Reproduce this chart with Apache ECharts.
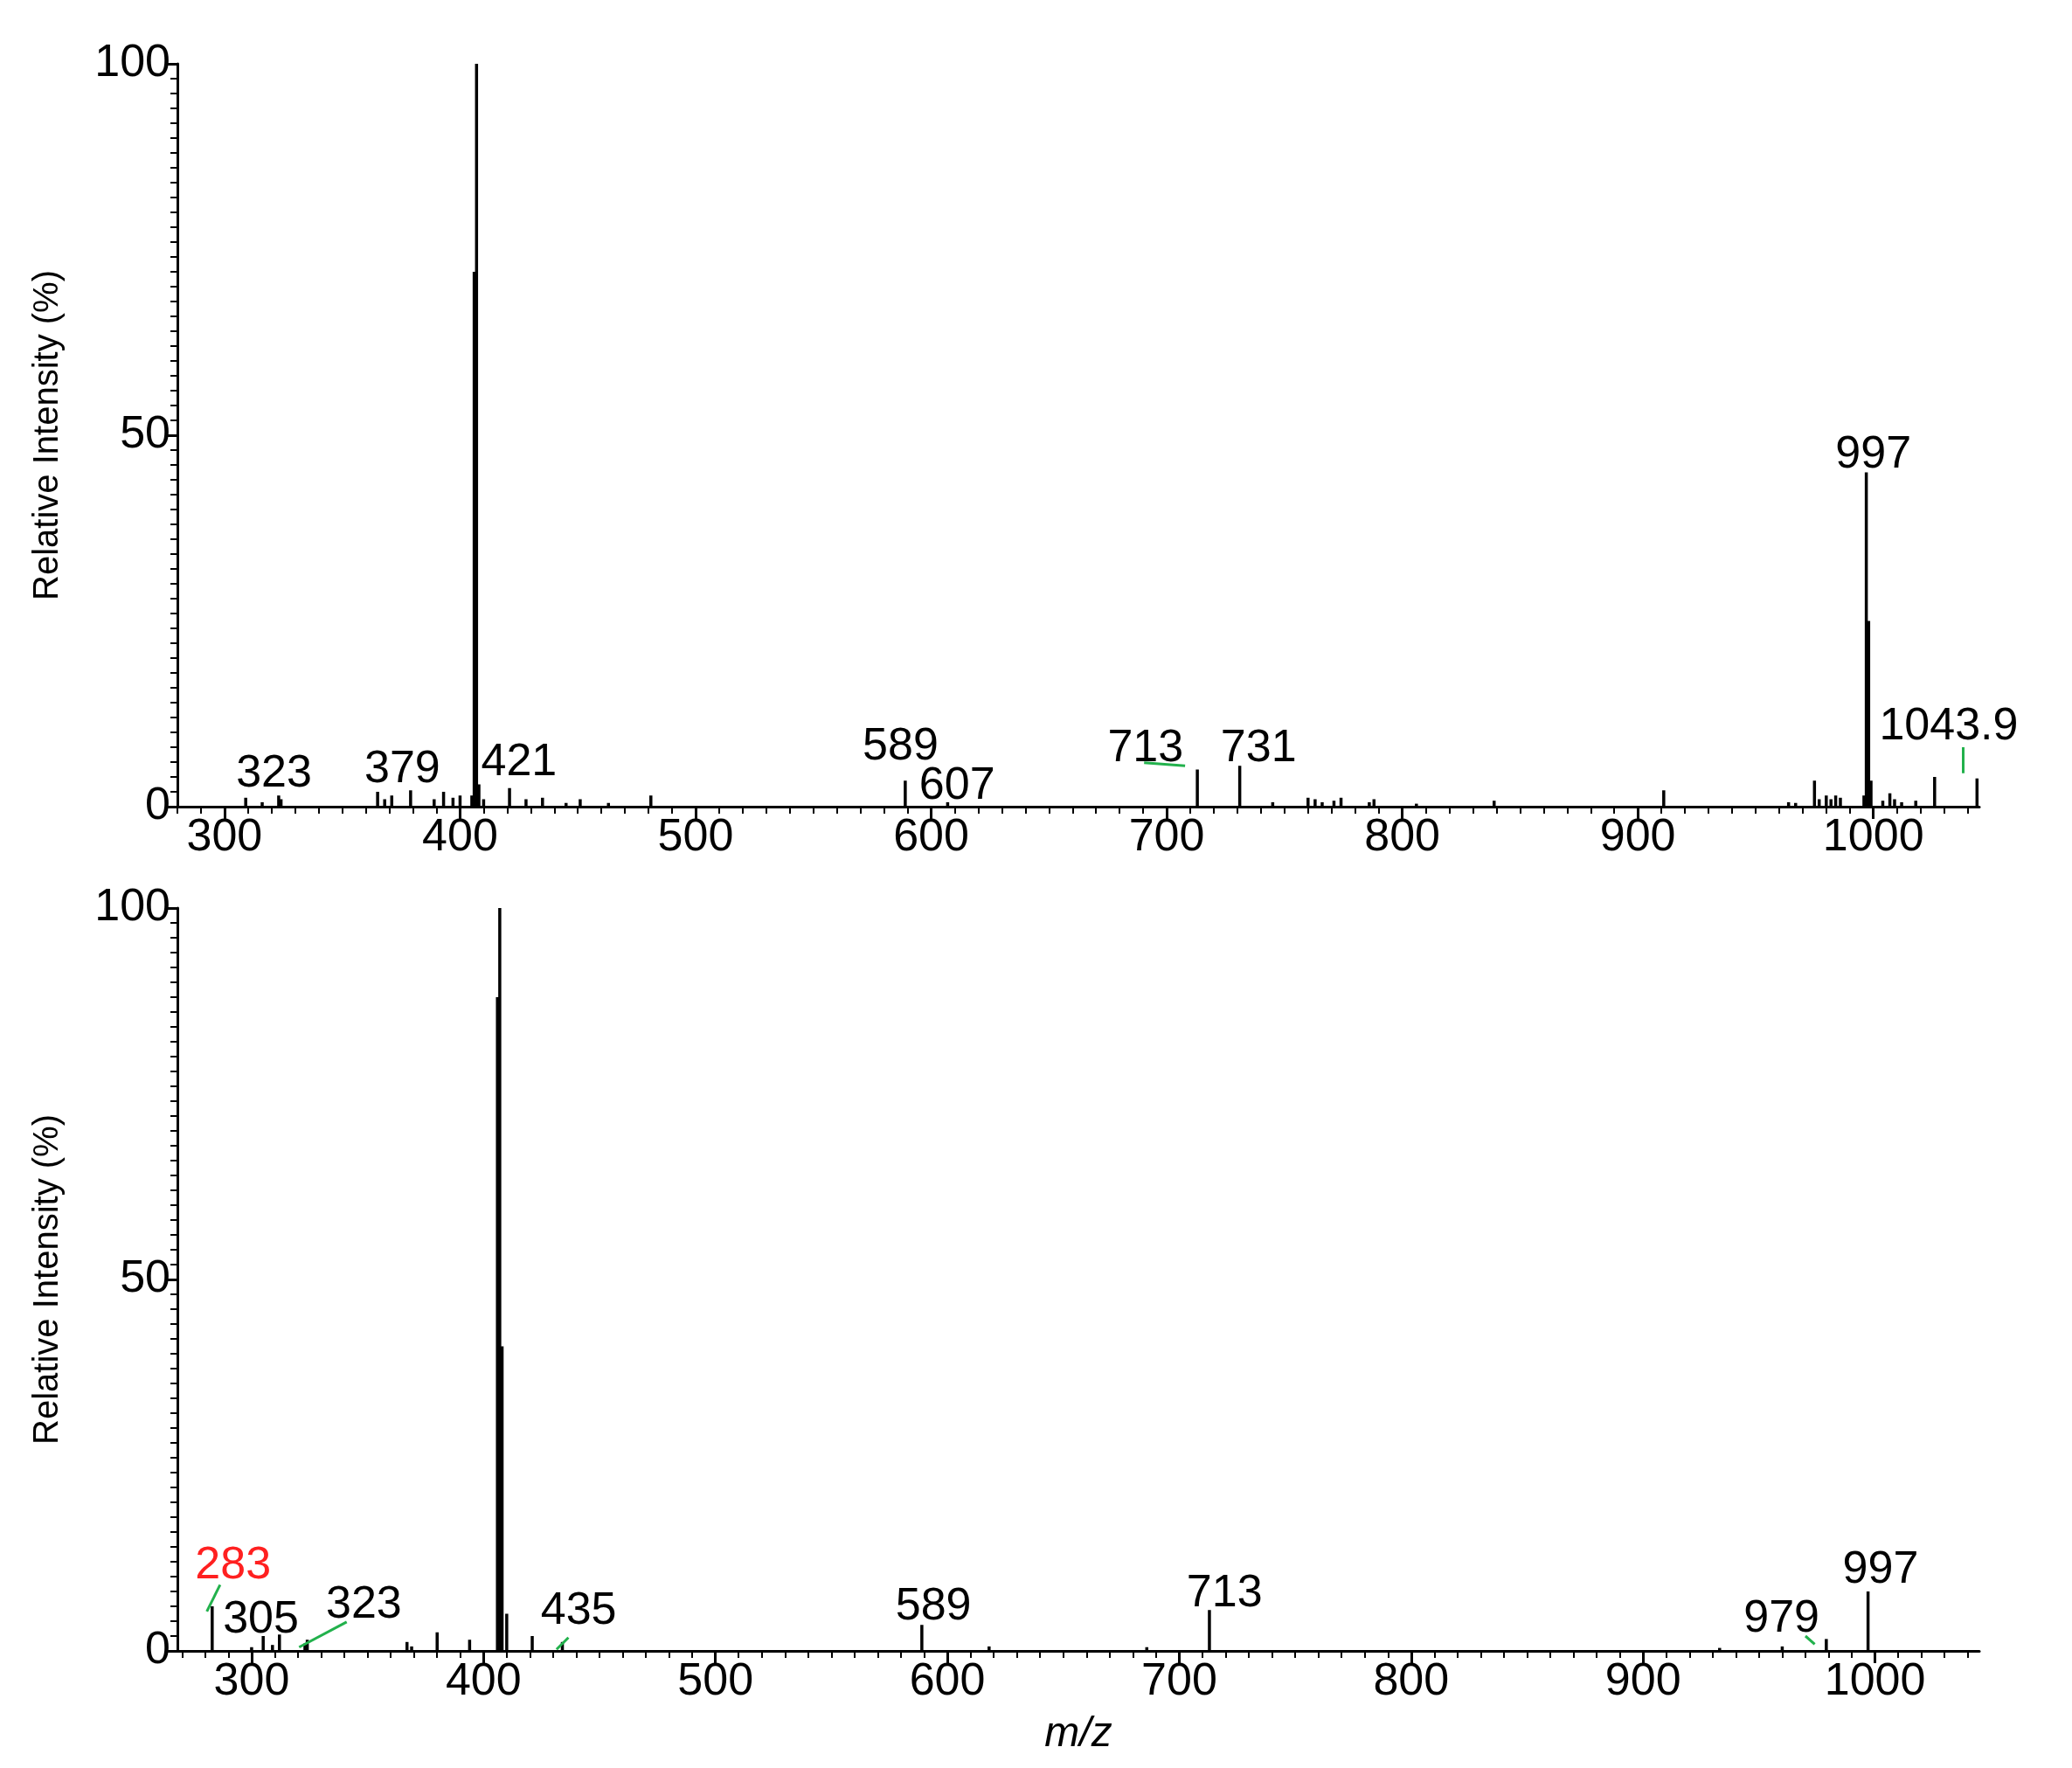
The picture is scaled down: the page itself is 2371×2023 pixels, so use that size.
<!DOCTYPE html>
<html><head><meta charset="utf-8">
<script src="https://cdn.jsdelivr.net/npm/echarts@6/dist/echarts.min.js"></script>
<style>html,body{margin:0;padding:0;background:#fff}#c{width:2371px;height:2023px}</style>
</head><body><div id="c"></div>
<script>
// Top spectrum peaks [m/z, relative intensity %]
const topMz = [309,316,323,324,365,368,371,379,389,393,397,400,405,406,407,408,410,421,428,435,445,451,463,481,589,607,713,731,745,760,763,766,771,774,786,788,806,839,911,964,967,975,977,980,982,984,986,996,997,998,999,1004,1007,1009,1012,1018,1026,1044];
const topInt = [1.2,0.6,1.5,1.0,2.0,1.0,1.5,2.2,1.0,2.0,1.2,1.5,1.5,72,100,3.0,1.0,2.5,1.0,1.2,0.5,1.0,0.5,1.5,3.5,0.6,5.0,5.5,0.6,1.2,1.0,0.6,0.8,1.2,0.6,1.0,0.4,0.8,2.2,0.6,0.5,3.5,1.0,1.5,1.0,1.5,1.2,1.5,45,25,3.5,0.8,1.8,1.0,0.6,0.8,4.0,3.8];
// Bottom spectrum peaks
const botMz = [283,300,305,309,312,323,324,367,369,380,394,406,407,408,410,421,434,589,618,686,713,933,960,979,997];
const botInt = [6.0,0.5,2.0,0.8,2.2,1.0,1.5,1.2,0.6,2.5,1.5,88,100,41,5.0,2.0,1.2,3.5,0.6,0.5,5.5,0.4,0.6,1.6,8.0];
// Peak labels: [text, m/z, intensity (label center), colour]
const topLabels = [["407",404,103.5,"#000"],["323",321,4.4,"#000"],["379",375.5,5.0,"#000"],["421",425,5.9,"#000"],["589",587,8.0,"#000"],["607",611,2.8,"#000"],["713",691,7.8,"#000"],["731",739,7.8,"#000"],["997",1000,47.3,"#000"],["1043.9",1032,10.8,"#000"]];
const botLabels = [["407",405.3,101.8,"#ff2020"],["283",292,11.4,"#ff2020"],["305",304,4.1,"#000"],["323",348.4,6.2,"#000"],["435",441,5.3,"#000"],["589",594,5.9,"#000"],["713",719.5,7.7,"#000"],["979",959.7,4.3,"#000"],["997",1002.4,10.9,"#000"]];
// Green leader lines [[mz1,int1],[mz2,int2]]
const topLeaders = [[[690.4,5.9],[707.8,5.5]],[[1038,8.0],[1038,4.5]]];
const botLeaders = [[[286.4,8.9],[280.7,5.3]],[[341,3.9],[320.5,0.5]],[[436.6,1.8],[431.5,0.2]],[[970,2.0],[974,0.9]]];
const xTicks = [300,400,500,600,700,800,900,1000];

const chart = echarts.init(document.getElementById('c'));
const font = 'Liberation Sans, Arial, sans-serif';
function range(a,b,s){const r=[];for(let v=a;v<=b;v+=s)r.push(v);return r;}
function mainX(grid,min,max,name){
  return {type:'value',gridIndex:grid,min:min,max:max,
    axisLine:{show:true,lineStyle:{color:'#000',width:3}},
    axisTick:{show:true,length:14,inside:false,customValues:xTicks,lineStyle:{color:'#000',width:3}},
    axisLabel:{show:true,customValues:xTicks,fontSize:52,color:'#000',fontFamily:font,margin:10,formatter:v=>String(v)},
    splitLine:{show:false},
    name:name||'',nameLocation:'middle',nameGap:72,
    nameTextStyle:{fontSize:48,fontStyle:'italic',color:'#000',fontFamily:font}};
}
function minorX(grid,min,max){
  return {type:'value',gridIndex:grid,min:min,max:max,position:'bottom',
    axisLine:{show:false},
    axisTick:{show:true,length:8,customValues:range(Math.ceil(min/10)*10,max,10),lineStyle:{color:'#000',width:2}},
    axisLabel:{show:false},splitLine:{show:false}};
}
function yAx(grid){
  return {type:'value',gridIndex:grid,min:0,max:100,interval:50,
    axisLine:{show:true,lineStyle:{color:'#000',width:3}},
    axisTick:{show:true,length:14,lineStyle:{color:'#000',width:3}},
    minorTick:{show:true,splitNumber:25,length:8,lineStyle:{color:'#000',width:2}},
    axisLabel:{fontSize:52,color:'#000',fontFamily:font,margin:8},
    splitLine:{show:false},
    name:'Relative Intensity (%)',nameLocation:'middle',nameGap:128,
    nameTextStyle:{fontSize:40,color:'#000',fontFamily:font}};
}
function sticks(mz,it,xi,yi){
  return {type:'custom',xAxisIndex:xi,yAxisIndex:yi,
    data:mz.map((m,i)=>[m,it[i]]),
    renderItem:function(params,api){
      const p0=api.coord([api.value(0),0]);const p1=api.coord([api.value(0),api.value(1)]);
      return {type:'line',shape:{x1:p0[0],y1:p0[1],x2:p1[0],y2:p1[1]},style:{stroke:'#000',lineWidth:3.5}};
    },z:3};
}
function labels(arr,xi,yi){
  return {type:'scatter',xAxisIndex:xi,yAxisIndex:yi,symbolSize:0,silent:true,
    data:arr.map(l=>({name:l[0],value:[l[1],l[2]],label:{color:l[3]}})),
    label:{show:true,position:'inside',formatter:'{b}',fontSize:52,fontFamily:font,color:'#000',opacity:1},z:5};
}
function leaders(arr,xi,yi){
  return {type:'lines',coordinateSystem:'cartesian2d',xAxisIndex:xi,yAxisIndex:yi,silent:true,
    data:arr.map(c=>({coords:c})),lineStyle:{color:'#22b14c',width:3,opacity:1},z:4};
}
chart.setOption({
  animation:false,backgroundColor:'#fff',
  grid:[{left:203,right:106,top:73,height:850},{left:203,right:106,top:1039,height:850}],
  xAxis:[mainX(0,280,1045),minorX(0,280,1045),mainX(1,268,1045,'m/z'),minorX(1,268,1045)],
  yAxis:[yAx(0),yAx(1)],
  series:[sticks(topMz,topInt,0,0),sticks(botMz,botInt,2,1),
    labels(topLabels,0,0),labels(botLabels,2,1),
    leaders(topLeaders,0,0),leaders(botLeaders,2,1)]
});
</script></body></html>
